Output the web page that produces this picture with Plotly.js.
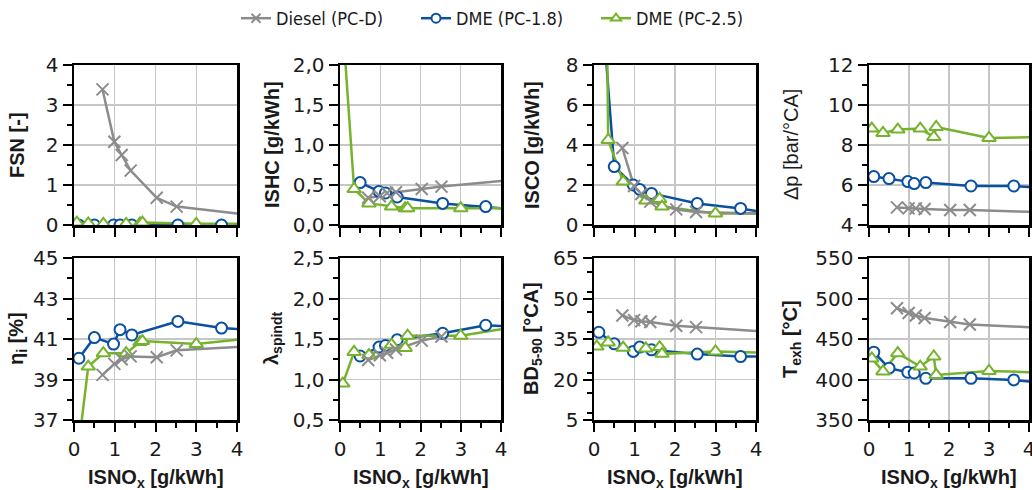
<!DOCTYPE html>
<html><head><meta charset="utf-8">
<script src="https://cdn.plot.ly/plotly-3.0.1.min.js"></script>
<style>html,body{margin:0;padding:0;background:#fff}#chart{width:1032px;height:490px}</style>
</head><body><div id="chart"></div>
<script>
// ---- data ----
const seriesNames = ['Diesel (PC-D)', 'DME (PC-1.8)', 'DME (PC-2.5)'];
const xDiesel = [0.70, 0.99, 1.17, 1.39, 2.03, 2.52];
const xPC18   = [0.12, 0.50, 0.97, 1.13, 1.42, 2.55, 3.62];
const xPC25   = [0.07, 0.35, 0.72, 1.28, 1.62, 1.68, 3.00];
const xLineEnd = 4;

// panel order: FSN, ISHC, ISCO, dp, eta_i, lambda, BD5-90, T_exh
const fsnDiesel = [3.39, 2.08, 1.75, 1.36, 0.68, 0.46];
const fsnPC18   = [0.00, 0.00, 0.00, 0.00, 0.00, 0.00, 0.00];
const fsnPC25   = [0.06, 0.04, 0.03, 0.03, 0.04, 0.06, 0.03];

const ishcDiesel = [0.34, 0.36, 0.40, 0.41, 0.45, 0.48];
const ishcPC18   = [null, 0.53, 0.42, 0.40, 0.35, 0.27, 0.23];
const ishcPC25   = [2.50, 0.45, 0.27, 0.23, 0.21, 0.21, 0.21];

const iscoDiesel = [3.85, 1.95, 1.55, 1.17, 0.78, 0.65];
const iscoPC18   = [13.0, 2.92, 2.00, 1.78, 1.58, 1.08, 0.83];
const iscoPC25   = [60.0, 4.25, 2.17, 1.22, 1.30, 0.92, 0.58];

const dpDiesel = [4.88, 4.83, 4.83, 4.80, 4.75, 4.75];
const dpPC18   = [6.42, 6.32, 6.17, 6.07, 6.12, 5.95, 5.95];
const dpPC25   = [8.82, 8.60, 8.77, 8.82, 8.40, 8.90, 8.35];

const etaDiesel = [39.23, 39.77, 40.00, 40.14, 40.10, 40.44];
const etaPC18   = [40.05, 41.07, 40.75, 41.46, 41.20, 41.87, 41.54];
const etaPC25   = [35.00, 39.64, 40.30, 40.30, 40.85, 40.90, 40.75];

const lamDiesel = [1.24, 1.30, 1.33, 1.37, 1.48, 1.53];
const lamPC18   = [null, 1.29, 1.40, 1.42, 1.49, 1.57, 1.67];
const lamPC25   = [0.95, 1.34, 1.30, 1.43, 1.39, 1.54, 1.54];

const bdDiesel = [43.7, 42.0, 41.6, 41.3, 39.9, 39.4];
const bdPC18   = [37.5, 33.2, 30.4, 32.0, 31.0, 29.4, 28.5];
const bdPC25   = [32.2, 33.7, 31.8, 31.5, 32.0, 29.5, 30.4];

const texDiesel = [488, 482, 479, 476, 471, 468];
const texPC18   = [433.7, 414, 409, 408, 401.5, 401.5, 399.5];
const texPC25   = [426, 410, 432.5, 416, 428.4, 405.7, 410.6];

// value of each trend line at ISNOx = 4 (per panel)
const endDiesel = [0.29, 0.55, 0.58, 4.66, 40.60, null, 38.0, 464.6];
const endPC18   = [0.00, 0.21, 0.70, 5.90, 41.49, 1.66, 28.5, 397.4];
const endPC25   = [0.03, 0.21, 0.58, 8.39, 40.96, 1.62, 30.0, 409.0];

const yTitles = ['FSN [-]', 'ISHC [g/kWh]', 'ISCO [g/kWh]', 'Δp [bar/°CA]',
                 'η<sub>i</sub> [%]', 'λ<sub>spindt</sub>', 'BD<sub>5-90</sub> [°CA]', 'T<sub>exh</sub> [°C]'];
const xTitle = 'ISNO<sub>x</sub> [g/kWh]';
const xTickVals = [0, 1, 2, 3, 4];

// ---- styling ----
const W = 1032, H = 490;
const colors = ['#8c8c8c', '#0a50a0', '#76b32c'];
const symbols = ['x-thin-open', 'circle', 'triangle-up'];
const sizes = [12, 11, 12];
const colLeft = [74, 340, 594, 869], colRight = [237, 501, 756, 1029];
const rowTop = [65, 258], rowBot = [225, 420];
const yRanges = [[0,4],[0,2],[0,8],[4,12],[37,45],[0.5,2.5],[5,65],[350,550]];
const yDticks = [1,0.5,2,2,2,0.5,15,50];
const yFormats = ['', '.1f', '', '', '', '.1f', '', ''];
const yTitleX = [17, 272, 532, 791, 17, 272, 532, 791];
const yTitleBold = [true, true, true, false, true, true, true, true];

const panelData = [
  [fsnDiesel, fsnPC18, fsnPC25], [ishcDiesel, ishcPC18, ishcPC25],
  [iscoDiesel, iscoPC18, iscoPC25], [dpDiesel, dpPC18, dpPC25],
  [etaDiesel, etaPC18, etaPC25], [lamDiesel, lamPC18, lamPC25],
  [bdDiesel, bdPC18, bdPC25], [texDiesel, texPC18, texPC25]
];
const xs = [xDiesel, xPC18, xPC25];
const ends = [endDiesel, endPC18, endPC25];

const tickFont = {family: 'DejaVu Sans, sans-serif', size: 20, color: '#1a1a1a'};
const titleFont = {family: 'Liberation Sans, Arial, sans-serif', size: 20, color: '#1a1a1a'};

const traces = [];
// legend entries
for (let s = 0; s < 3; s++) {
  traces.push({x: [null], y: [null], xaxis: 'x', yaxis: 'y', mode: 'lines+markers', name: seriesNames[s],
    line: {color: colors[s], width: 2.5},
    marker: {symbol: symbols[s], size: 9, color: s === 0 ? colors[s] : '#fff', line: {color: colors[s], width: 2}},
    showlegend: true, hoverinfo: 'skip'});
}
const drawOrder = [1, 2, 0];
for (let p = 0; p < 8; p++) {
  const ax = p === 0 ? '' : String(p + 1);
  for (const s of drawOrder) {
    const vals = panelData[p][s];
    traces.push({x: xs[s].concat([xLineEnd]), y: vals.concat([ends[s][p]]),
      xaxis: 'x' + ax, yaxis: 'y' + ax, mode: 'lines', showlegend: false,
      line: {color: colors[s], width: 2.5}, hoverinfo: 'skip'});
  }
  for (const s of drawOrder) {
    const vals = panelData[p][s];
    traces.push({x: xs[s], y: vals, xaxis: 'x' + ax, yaxis: 'y' + ax, mode: 'markers', showlegend: false,
      marker: {symbol: symbols[s], size: sizes[s], color: s === 0 ? colors[s] : '#fff',
               line: {color: colors[s], width: 2}}, hoverinfo: 'skip'});
  }
}

const layout = {
  width: W, height: H, margin: {l: 0, r: 0, t: 0, b: 0},
  paper_bgcolor: '#fff', plot_bgcolor: '#fff', separators: ',.',
  showlegend: true,
  legend: {orientation: 'h', x: 236 / W, xanchor: 'left', y: 1, yanchor: 'top',
    font: {family: 'Liberation Sans Narrow, DejaVu Sans Condensed, sans-serif', size: 18, color: '#1a1a1a'},
    entrywidth: 135, entrywidthmode: 'pixels', bgcolor: 'rgba(0,0,0,0)'},
  annotations: []
};
for (let p = 0; p < 8; p++) {
  const r = p < 4 ? 0 : 1, c = p % 4;
  const ax = p === 0 ? '' : String(p + 1);
  const xd = [colLeft[c] / W, colRight[c] / W];
  const yd = [(H - rowBot[r]) / H, (H - rowTop[r]) / H];
  const common = {showline: true, linecolor: '#000', linewidth: 2.5, mirror: true,
    showgrid: true, gridcolor: '#c6c6c6', gridwidth: 1.3, zeroline: false,
    ticks: 'outside', ticklen: 9, tickwidth: 2, tickcolor: '#000', tickfont: tickFont, fixedrange: true};
  layout['xaxis' + ax] = Object.assign({}, common, {domain: xd, anchor: 'y' + ax, range: [0, 4],
    tickvals: xTickVals, showticklabels: r === 1, ticklabeloverflow: 'allow',
    minor: {dtick: 0.5, ticks: 'outside', ticklen: 5, tickwidth: 2, tickcolor: '#000', showgrid: false}});
  layout['yaxis' + ax] = Object.assign({}, common, {domain: yd, anchor: 'x' + ax, range: yRanges[p],
    tick0: yRanges[p][0], dtick: yDticks[p], tickformat: yFormats[p],
    minor: {dtick: yDticks[p] / 2, ticks: 'outside', ticklen: 5, tickwidth: 2, tickcolor: '#000', showgrid: false}});
  const ttl = yTitleBold[p] ? '<b>' + yTitles[p] + '</b>' : yTitles[p];
  layout.annotations.push({text: ttl, xref: 'paper', yref: 'paper', x: yTitleX[p] / W,
    y: (H - (rowTop[r] + rowBot[r]) / 2) / H, textangle: -90, showarrow: false,
    xanchor: 'center', yanchor: 'middle', font: titleFont});
  if (r === 1) {
    layout.annotations.push({text: '<b>' + xTitle + '</b>', xref: 'paper', yref: 'paper',
      x: (colLeft[c] + colRight[c]) / 2 / W, y: (H - 478) / H, showarrow: false,
      xanchor: 'center', yanchor: 'middle', font: titleFont});
  }
}
Plotly.newPlot('chart', traces, layout, {displayModeBar: false, staticPlot: true});
</script></body></html>
